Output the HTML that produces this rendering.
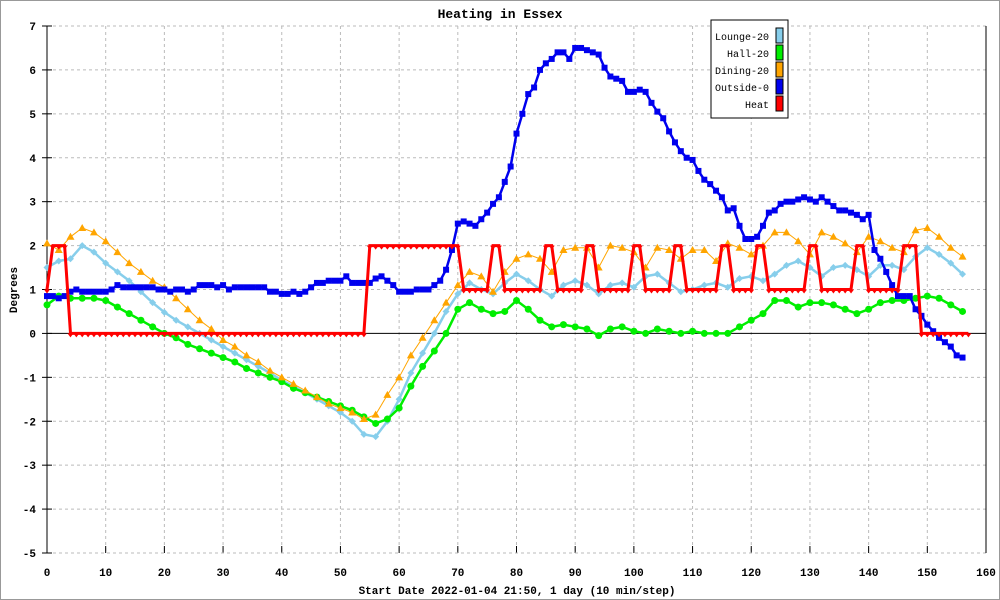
<!DOCTYPE html>
<html><head><meta charset="utf-8"><style>
body{margin:0;background:#fff}
svg{display:block;font-family:"Liberation Mono",monospace}
</style></head><body>
<svg id="c" width="1000" height="600" viewBox="0 0 1000 600">
<rect x="0.5" y="0.5" width="999" height="599" fill="#fff" stroke="#999"/>
<text x="500" y="18" text-anchor="middle" font-size="13" font-weight="bold">Heating in Essex</text>
<text transform="translate(17,290) rotate(-90)" text-anchor="middle" font-size="11" font-weight="bold">Degrees</text>
<text x="517" y="594" text-anchor="middle" font-size="11" font-weight="bold">Start Date 2022-01-04 21:50, 1 day (10 min/step)</text>
<g id="grid"></g><g id="series"></g><g id="legend"></g>
</svg>
<script>
const xTicks=[0,10,20,30,40,50,60,70,80,90,100,110,120,130,140,150,160];
const yTicks=[-5,-4,-3,-2,-1,0,1,2,3,4,5,6,7];
const outside=[0.85,0.85,0.8,0.85,0.95,1.0,0.95,0.95,0.95,0.95,0.95,1.0,1.1,1.05,1.05,1.05,1.05,1.05,1.05,1.0,1.0,0.95,1.0,1.0,0.95,1.0,1.1,1.1,1.1,1.05,1.1,1.0,1.05,1.05,1.05,1.05,1.05,1.05,0.95,0.95,0.9,0.9,0.95,0.9,0.95,1.05,1.15,1.15,1.2,1.2,1.2,1.3,1.15,1.15,1.15,1.15,1.25,1.3,1.2,1.1,0.95,0.95,0.95,1.0,1.0,1.0,1.1,1.2,1.45,1.9,2.5,2.55,2.5,2.45,2.6,2.75,2.95,3.1,3.45,3.8,4.55,5.0,5.45,5.6,6.0,6.15,6.25,6.4,6.4,6.25,6.5,6.5,6.45,6.4,6.35,6.05,5.85,5.8,5.75,5.5,5.5,5.55,5.5,5.25,5.05,4.9,4.6,4.35,4.15,4.0,3.95,3.7,3.5,3.4,3.25,3.1,2.8,2.85,2.45,2.15,2.15,2.2,2.45,2.75,2.8,2.95,3.0,3.0,3.05,3.1,3.05,3.0,3.1,3.0,2.9,2.8,2.8,2.75,2.7,2.6,2.7,1.9,1.7,1.4,1.1,0.85,0.85,0.85,0.55,0.4,0.2,0.05,-0.1,-0.2,-0.3,-0.5,-0.55];
const heat=[1,2,2,2,0,0,0,0,0,0,0,0,0,0,0,0,0,0,0,0,0,0,0,0,0,0,0,0,0,0,0,0,0,0,0,0,0,0,0,0,0,0,0,0,0,0,0,0,0,0,0,0,0,0,0,2,2,2,2,2,2,2,2,2,2,2,2,2,2,2,2,1,1,1,1,1,2,2,1,1,1,1,1,1,1,2,2,1,1,1,1,1,2,2,1,1,1,1,1,1,2,2,1,1,1,1,1,2,2,1,1,1,1,1,1,2,2,1,1,1,1,2,2,1,1,1,1,1,1,1,2,2,1,1,1,1,1,1,2,2,1,1,1,1,1,1,2,2,2,0,0,0,0,0,0,0,0,0];
const evenSteps=[0,2,4,6,8,10,12,14,16,18,20,22,24,26,28,30,32,34,36,38,40,42,44,46,48,50,52,54,56,58,60,62,64,66,68,70,72,74,76,78,80,82,84,86,88,90,92,94,96,98,100,102,104,106,108,110,112,114,116,118,120,122,124,126,128,130,132,134,136,138,140,142,144,146,148,150,152,154,156];
const lounge=[1.5,1.65,1.7,2.0,1.85,1.6,1.4,1.2,0.95,0.7,0.48,0.3,0.15,0.0,-0.15,-0.3,-0.45,-0.6,-0.75,-0.9,-1.07,-1.2,-1.35,-1.5,-1.65,-1.8,-2.0,-2.3,-2.35,-2.0,-1.5,-0.9,-0.45,0.0,0.5,0.9,1.15,1.0,0.9,1.15,1.35,1.2,1.0,0.85,1.1,1.2,1.1,0.9,1.1,1.15,1.05,1.3,1.35,1.15,0.95,1.0,1.1,1.15,1.05,1.25,1.3,1.2,1.35,1.55,1.65,1.5,1.3,1.5,1.55,1.45,1.3,1.55,1.55,1.45,1.75,1.95,1.8,1.6,1.35];
const dining=[2.05,1.9,2.2,2.4,2.3,2.1,1.85,1.6,1.4,1.2,1.05,0.8,0.55,0.3,0.1,-0.15,-0.3,-0.5,-0.65,-0.85,-1.0,-1.15,-1.3,-1.45,-1.6,-1.7,-1.8,-1.95,-1.85,-1.4,-1.0,-0.5,-0.1,0.3,0.7,1.1,1.4,1.3,0.95,1.4,1.7,1.8,1.7,1.4,1.9,1.95,1.95,1.5,2.0,1.95,1.85,1.5,1.95,1.9,1.7,1.9,1.9,1.65,2.05,1.95,1.8,2.0,2.3,2.3,2.1,1.8,2.3,2.2,2.05,1.85,2.2,2.1,1.95,1.85,2.35,2.4,2.2,1.95,1.75];
const hall=[0.65,0.85,0.8,0.8,0.8,0.75,0.6,0.45,0.3,0.15,0.0,-0.1,-0.25,-0.35,-0.45,-0.55,-0.65,-0.8,-0.9,-1.0,-1.1,-1.25,-1.35,-1.45,-1.55,-1.65,-1.75,-1.9,-2.05,-1.95,-1.7,-1.2,-0.75,-0.4,0.0,0.55,0.7,0.55,0.45,0.5,0.75,0.55,0.3,0.15,0.2,0.15,0.1,-0.05,0.1,0.15,0.05,0.0,0.1,0.05,0.0,0.05,0.0,0.0,0.0,0.15,0.3,0.45,0.75,0.75,0.6,0.7,0.7,0.65,0.55,0.45,0.55,0.7,0.75,0.75,0.8,0.85,0.8,0.65,0.5];

const NS="http://www.w3.org/2000/svg";
const X0=47,X1=986,Y0=553,Y1=26;
const sx=v=>X0+(v-0)*(X1-X0)/160;
const sy=v=>Y0-(v+5)*(Y0-Y1)/12;
function mk(tag,attrs,parent){const e=document.createElementNS(NS,tag);for(const k in attrs)e.setAttribute(k,attrs[k]);parent.appendChild(e);return e;}
const grid=document.getElementById('grid'),ser=document.getElementById('series'),leg=document.getElementById('legend');
xTicks.forEach(t=>{
 if(t>0&&t<160){const g=mk('line',{x1:sx(t),x2:sx(t),y1:Y1,y2:Y0,stroke:'#bbb','stroke-dasharray':'3,3'},grid);
 
 }
 const tk=mk('line',{x1:sx(t),x2:sx(t),y1:Y0,y2:Y0-7,stroke:'#000'},grid);
 
 
 const l=mk('text',{x:sx(t),y:576,'text-anchor':'middle','font-size':'11','font-weight':'bold'},grid);l.textContent=t;
 
 
});
yTicks.forEach(t=>{
 const g=mk('line',{x1:X0,x2:X1,y1:sy(t),y2:sy(t),stroke:t===0?'#000':'#bbb','stroke-dasharray':t===0?'none':'3,3'},grid);
 
 
 const tk=mk('line',{x1:X0-5,x2:X0+5,y1:sy(t),y2:sy(t),stroke:'#000'},grid);
 
 
 const l=mk('text',{x:36,y:sy(t)+4,'text-anchor':'end','font-size':'11','font-weight':'bold'},grid);l.textContent=t;
 
 
});
const ax=mk('line',{x1:X0,x2:X0,y1:Y1,y2:Y0,stroke:'#000'},grid);


const rx=mk('line',{x1:X1,x2:X1,y1:Y1,y2:Y0,stroke:'#000'},grid);



function marker(type,x,y,color,g){
 let e;
 if(type==='circle')e=mk('circle',{cx:x,cy:y,r:3.5,fill:color},g);
 else if(type==='diamond')e=mk('path',{d:`M${x},${y-3.5}L${x+3.5},${y}L${x},${y+3.5}L${x-3.5},${y}Z`,fill:color},g);
 else if(type==='tri')e=mk('path',{d:`M${x},${y-4}L${x+4},${y+3}L${x-4},${y+3}Z`,fill:color},g);
 else if(type==='square')e=mk('rect',{x:x-3,y:y-3,width:6,height:6,fill:color},g);
 else e=mk('path',{d:`M${x-3},${y}L${x+3},${y}L${x},${y+4}Z`,fill:color},g);
 
 
}
function drawSeries(name,xs,ys,color,type,w){
 const g=mk('g',{},ser);
 
 
 const d=ys.map((v,i)=>(i?'L':'M')+sx(xs[i]).toFixed(1)+','+sy(v).toFixed(1)).join('');
 mk('path',{d:d,fill:'none',stroke:color,'stroke-width':w},g);
 ys.forEach((v,i)=>marker(type,sx(xs[i]),sy(v),color,g));
}
const allSteps=outside.map((_,i)=>i);
drawSeries('lounge',evenSteps,lounge,'#87ceeb','diamond',2.5);
drawSeries('hall',evenSteps,hall,'#00ee00','circle',2.5);
drawSeries('dining',evenSteps,dining,'#ffa500','tri',1);
drawSeries('outside',allSteps,outside,'#0000ee','square',2.5);
drawSeries('heat',heat.map((_,i)=>i),heat,'#ff0000','down',3);

mk('rect',{x:711,y:20,width:77,height:98,fill:'#fff',stroke:'#000'},leg);
const names=['Lounge-20','Hall-20','Dining-20','Outside-0','Heat'];
const cols=['#87ceeb','#00ee00','#ffa500','#0000ee','#ff0000'];
names.forEach((n,i)=>{
 const g=mk('g',{},leg);
 
 
 const t=mk('text',{x:769,y:40+i*17,'text-anchor':'end','font-size':'10'},g);t.textContent=n;
 mk('rect',{x:776,y:28+i*17,width:7,height:15,fill:cols[i],stroke:'#000'},g);
});
</script>
</body></html>
